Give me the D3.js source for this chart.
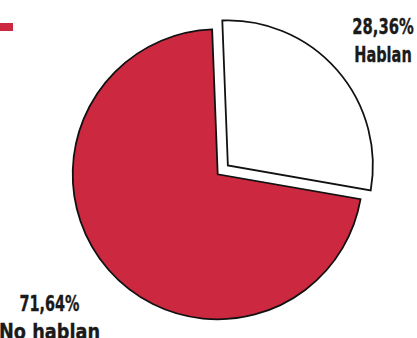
<!DOCTYPE html>
<html>
<head>
<meta charset="utf-8">
<script src="https://cdn.jsdelivr.net/npm/d3@7"></script>
<style>
  html, body { margin: 0; padding: 0; background: #fff; }
  svg { display: block; }
  .lbl { font-family: "DejaVu Sans Condensed", "DejaVu Sans", sans-serif; font-stretch: condensed; font-weight: bold; font-size: 22px; fill: #1a1a1a; stroke: #1a1a1a; stroke-width: 0.35; }
</style>
</head>
<body>
<div id="chart"></div>
<script>
const categories = ['Hablan', 'No hablan'];
const values = [28.36, 71.64];
const pctLabels = ['28,36%', '71,64%'];
const colors = ['#ffffff', '#cc2940'];

const width = 417,
      height = 338;

const cx = 217.7, cy = 174.3, radius = 145;
const start = -2.2 * Math.PI / 180;
const explode = [13.5, 0];

// text block placement, and squeezed widths to imitate a condensed face
const labelPos = [[383, 33.5], [49.5, 311]];
const pctWidth = [61.5, 60];
const nameWidth = [57.5, 101];

const svg = d3.select('#chart').append('svg').attr('width', width).attr('height', height);

// clipped legend swatch at top left
svg.append('rect').attr('x', 0).attr('y', 23).attr('width', 13).attr('height', 8).attr('fill', colors[1]);

const pie = d3.pie().sort(null).startAngle(start).endAngle(start + 2 * Math.PI);
const arc = d3.arc().innerRadius(0).outerRadius(radius);

const g = svg.append('g').attr('transform', `translate(${cx},${cy})`);

g.selectAll('path')
  .data(pie(values))
  .join('path')
  .attr('d', arc)
  .attr('fill', (d, i) => colors[i])
  .attr('stroke', '#111')
  .attr('stroke-width', 1.8)
  .attr('stroke-linejoin', 'miter')
  .attr('transform', (d, i) => {
    const a = (d.startAngle + d.endAngle) / 2;
    return `translate(${Math.sin(a) * explode[i]},${-Math.cos(a) * explode[i]})`;
  });

const t = svg.selectAll('text.lbl')
  .data(categories)
  .join('text')
  .attr('class', 'lbl')
  .attr('text-anchor', 'middle')
  .attr('x', (d, i) => labelPos[i][0])
  .attr('y', (d, i) => labelPos[i][1]);

t.append('tspan')
  .attr('textLength', (d, i) => pctWidth[i])
  .attr('lengthAdjust', 'spacingAndGlyphs')
  .text((d, i) => pctLabels[i]);
t.append('tspan')
  .attr('x', (d, i) => labelPos[i][0])
  .attr('dy', 28)
  .attr('textLength', (d, i) => nameWidth[i])
  .attr('lengthAdjust', 'spacingAndGlyphs')
  .text(d => d);
</script>
</body>
</html>
